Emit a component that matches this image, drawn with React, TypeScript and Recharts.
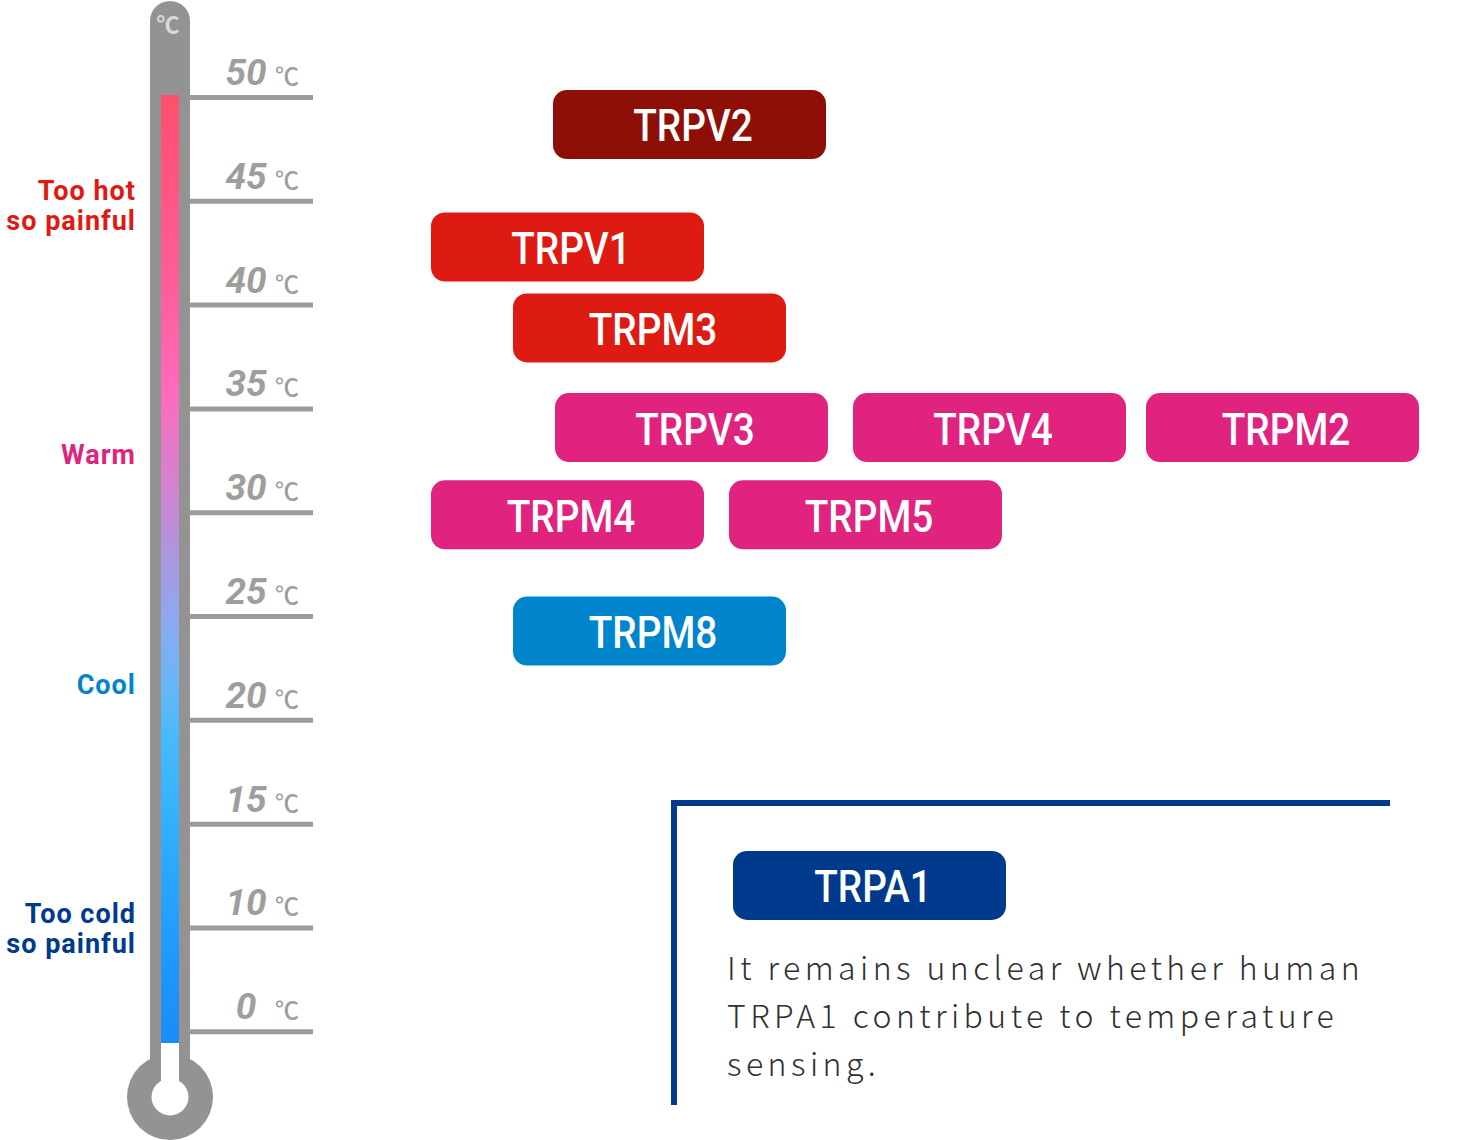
import React from "react";
import {
  ComposedChart,
  XAxis,
  YAxis,
  Scatter,
  ReferenceArea,
  ReferenceLine,
  Rectangle,
} from "recharts";

// temperature graduations (°C); the scale is broken below 10 ℃,
// the "0 ℃" mark sits one graduation under 10
const tempTicks = [50, 45, 40, 35, 30, 25, 20, 15, 10];
const floorTickLabel = 0;
const floorTickAt = 5;

// TRP channels: name, temperature where the label sits, lane (x) and colour
const channelNames = [
  "TRPV2",
  "TRPV1",
  "TRPM3",
  "TRPV3",
  "TRPV4",
  "TRPM2",
  "TRPM4",
  "TRPM5",
  "TRPM8",
  "TRPA1",
];
const channelTemps = [48.7, 42.8, 38.9, 34.1, 34.1, 34.1, 29.9, 29.9, 24.3, 12.05];
const channelLanes = [689.5, 567.5, 649.5, 691.5, 989.5, 1282.5, 567.5, 865.5, 649.5, 869.5];
const channelColors = [
  "#8e0f08",
  "#de1b12",
  "#de1b12",
  "#e0237f",
  "#e0237f",
  "#e0237f",
  "#e0237f",
  "#e0237f",
  "#0085cc",
  "#003a8c",
];

// sensation zones next to the thermometer
const zoneLines = [["Too hot", "so painful"], ["Warm"], ["Cool"], ["Too cold", "so painful"]];
const zoneTemps = [44.8, 32.83, 21.75, 10.0];
const zoneColors = ["#e01a12", "#e0237f", "#0085cc", "#003a8c"];

const noteLines = [
  "It remains unclear whether human",
  "TRPA1 contribute to temperature",
  "sensing.",
];

const W = 1462;
const H = 1140;
const TEMP_DOMAIN = [-0.211, 54.696];
const TICK_X = 246;
const ZONE_X = 136;
const NOTE_X = 727;
const NOTE_TEMP = 7.49;

const channels = channelNames.map((name, i) => ({
  name,
  t: channelTemps[i],
  x: channelLanes[i],
  color: channelColors[i],
}));
const zones = zoneLines.map((lines, i) => ({
  lines,
  t: zoneTemps[i],
  x: ZONE_X,
  color: zoneColors[i],
}));
const notes = [{ lines: noteLines, t: NOTE_TEMP, x: NOTE_X }];
const tickRows = [
  ...tempTicks.map((t) => ({ t, x: TICK_X, label: t })),
  { t: floorTickAt, x: TICK_X, label: floorTickLabel },
];

const GRAY = "#939393";

const ChannelBox = (props: any) => {
  const { cx, cy, payload } = props;
  return (
    <g>
      <rect x={cx - 136.5} y={cy - 34.5} width={273} height={69} rx={14} fill={payload.color} />
      <text
        transform={`translate(${cx + 3.5},${cy + 17}) scale(0.88,1)`}
        textAnchor="middle"
        fill="#fff"
        fontFamily="Roboto"
        fontWeight={500}
        fontSize={44}
      >
        {payload.name}
      </text>
    </g>
  );
};

const ZoneLabel = (props: any) => {
  const { cx, cy, payload } = props;
  const n = payload.lines.length;
  return (
    <text
      textAnchor="end"
      fill={payload.color}
      fontFamily="Roboto"
      fontWeight={700}
      fontSize={27}
      letterSpacing={1}
    >
      {payload.lines.map((l: string, i: number) => (
        <tspan key={i} x={cx} y={cy + (i - (n - 1) / 2) * 30 + 10}>
          {l}
        </tspan>
      ))}
    </text>
  );
};

const NoteText = (props: any) => {
  const { cx, cy, payload } = props;
  return (
    <text
      fill="#2f2f2f"
      fontFamily="Noto Sans CJK JP"
      fontWeight={300}
      fontSize={32}
      letterSpacing={4.45}
    >
      {payload.lines.map((l: string, i: number) => (
        <tspan key={i} x={cx} y={cy + i * 48}>
          {l}
        </tspan>
      ))}
    </text>
  );
};

// one temperature graduation: rule + "50 ℃" label above it
const TempTick = (props: any) => {
  const { cx, cy, payload } = props;
  return (
    <g>
      <line x1={cx - 57} x2={cx + 67} y1={cy} y2={cy} stroke="#9b9b9b" strokeWidth={5} />
      <text
        x={cx}
        y={cy - 12.5}
        textAnchor="middle"
        fill="#9e9e9e"
        fontFamily="Roboto"
        fontWeight={700}
        fontStyle="italic"
        fontSize={37}
      >
        {payload.label}
      </text>
      <text
        x={cx + 29}
        y={cy - 12.5}
        fill="#9e9e9e"
        fontFamily="Noto Sans CJK JP"
        fontWeight={500}
        fontSize={24}
      >
        ℃
      </text>
    </g>
  );
};

const Thermometer = (props: any) => {
  const { x, y, width, height } = props;
  const cx = x + width / 2;
  const bulbY = y + height;
  return (
    <g>
      <Rectangle x={x} y={y} width={width} height={height} radius={[20, 20, 0, 0]} fill={GRAY} />
      <circle cx={cx} cy={bulbY} r={43} fill={GRAY} />
      <rect x={cx - 9} y={y + 100} width={18} height={height - 100} fill="#fff" />
      <circle cx={cx} cy={bulbY} r={18.5} fill="#fff" />
      <text
        x={cx - 2}
        y={y + 32}
        textAnchor="middle"
        fill="#d9d9d9"
        fontFamily="Noto Sans CJK JP"
        fontWeight={700}
        fontSize={23}
      >
        ℃
      </text>
    </g>
  );
};

export default function App() {
  return (
    <div style={{ position: "absolute", left: 0, top: 0, width: W, height: H, background: "#fff" }}>
      <ComposedChart width={W} height={H} margin={{ top: 0, right: 0, bottom: 0, left: 0 }}>
        <defs>
          <linearGradient id="thermo" x1="0" y1="0" x2="0" y2="1">
            <stop offset="0" stopColor="#ff4f6c" />
            <stop offset="0.11" stopColor="#ff5685" />
            <stop offset="0.217" stopColor="#ff5f9f" />
            <stop offset="0.31" stopColor="#ff6abb" />
            <stop offset="0.35" stopColor="#ec74c2" />
            <stop offset="0.425" stopColor="#cc86d2" />
            <stop offset="0.49" stopColor="#aa98df" />
            <stop offset="0.55" stopColor="#8ea8ee" />
            <stop offset="0.614" stopColor="#6cb6f6" />
            <stop offset="0.68" stopColor="#47b9fc" />
            <stop offset="0.74" stopColor="#38b4ff" />
            <stop offset="0.83" stopColor="#28a6ff" />
            <stop offset="0.92" stopColor="#1e97fb" />
            <stop offset="1" stopColor="#1a8cf8" />
          </linearGradient>
        </defs>
        <XAxis type="number" dataKey="x" domain={[0, W]} allowDataOverflow hide />
        <YAxis type="number" dataKey="t" domain={TEMP_DOMAIN} allowDataOverflow hide />
        <ReferenceArea
          x1={150}
          x2={190}
          y1={1.86}
          y2={54.65}
          fillOpacity={1}
          shape={Thermometer}
        />
        <ReferenceArea
          x1={161}
          x2={179}
          y1={4.46}
          y2={50.12}
          fill="url(#thermo)"
          fillOpacity={1}
          stroke="none"
        />
        <ReferenceLine
          segment={[
            { x: 671, y: 16.02 },
            { x: 1390, y: 16.02 },
          ]}
          stroke="#003a8c"
          strokeWidth={6}
        />
        <ReferenceLine
          segment={[
            { x: 674, y: 16.17 },
            { x: 674, y: 1.48 },
          ]}
          stroke="#003a8c"
          strokeWidth={6}
        />
        <Scatter data={tickRows} shape={TempTick} isAnimationActive={false} legendType="none" />
        <Scatter data={channels} shape={ChannelBox} isAnimationActive={false} legendType="none" />
        <Scatter data={zones} shape={ZoneLabel} isAnimationActive={false} legendType="none" />
        <Scatter data={notes} shape={NoteText} isAnimationActive={false} legendType="none" />
      </ComposedChart>
    </div>
  );
}
